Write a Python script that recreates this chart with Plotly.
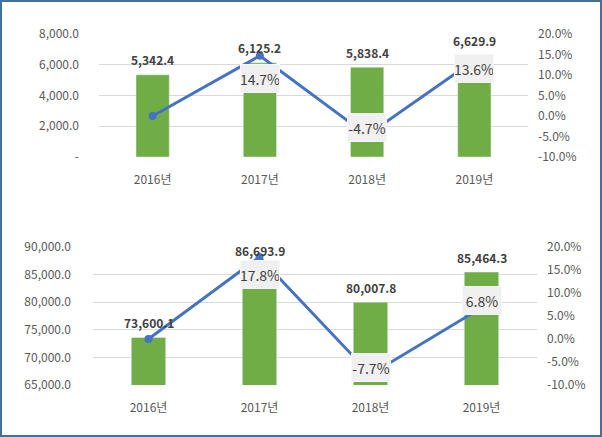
import plotly.graph_objects as go

# ---- data ----
years = ["2016년", "2017년", "2018년", "2019년"]
top_values = [5342.4, 6125.2, 5838.4, 6629.9]
top_growth = [0.0, 14.7, -4.7, 13.6]
bottom_values = [73600.1, 86693.9, 80007.8, 85464.3]
bottom_growth = [0.0, 17.8, -7.7, 6.8]

top_left_ticks = [0, 2000, 4000, 6000, 8000]
top_left_text = ["-", "2,000.0", "4,000.0", "6,000.0", "8,000.0"]
bottom_left_ticks = [65000, 70000, 75000, 80000, 85000, 90000]
bottom_left_text = ["65,000.0", "70,000.0", "75,000.0", "80,000.0", "85,000.0", "90,000.0"]
pct_ticks = [-10, -5, 0, 5, 10, 15, 20]
pct_text = ["-10.0%", "-5.0%", "0.0%", "5.0%", "10.0%", "15.0%", "20.0%"]

# ---- style ----
FONT = "Noto Sans CJK KR"
GREEN = "#70ad47"
BLUE = "#4472c4"
TICK_C = "#595959"
LABEL_C = "#404040"
GRID_C = "#d9d9d9"
W, H = 602, 437

def py(p):  # pixel y from top -> paper fraction
    return 1 - p / H

def px(p):
    return p / W

fig = go.Figure()

fig.add_trace(go.Bar(x=years, y=top_values, xaxis="x", yaxis="y",
                     marker=dict(color=GREEN), width=0.31, showlegend=False,
                     hoverinfo="skip"))
fig.add_trace(go.Scatter(x=years, y=top_growth, xaxis="x", yaxis="y2",
                         mode="lines+markers", line=dict(color=BLUE, width=3),
                         marker=dict(size=8, color=BLUE), showlegend=False,
                         hoverinfo="skip"))
fig.add_trace(go.Bar(x=years, y=bottom_values, xaxis="x2", yaxis="y3",
                     marker=dict(color=GREEN), width=0.31, showlegend=False,
                     hoverinfo="skip"))
fig.add_trace(go.Scatter(x=years, y=bottom_growth, xaxis="x2", yaxis="y4",
                         mode="lines+markers", line=dict(color=BLUE, width=3),
                         marker=dict(size=8, color=BLUE), showlegend=False,
                         hoverinfo="skip"))

tickfont = dict(family=FONT, size=12, color=TICK_C)

annotations = []
# value labels above bars
for xa, ya, vals in [("x", "y", top_values), ("x2", "y3", bottom_values)]:
    for yr, v in zip(years, vals):
        annotations.append(dict(x=yr, y=v, xref=xa, yref=ya, text=f"{v:,.1f}",
                                showarrow=False, yshift=15,
                                font=dict(family=FONT, size=12, color=LABEL_C, weight="bold")))
# growth labels
top_shift = [0, -23, 8, -8]
bot_shift = [0, -17, 7, 7]
for xa, ya, vals, shifts in [("x", "y2", top_growth, top_shift),
                             ("x2", "y4", bottom_growth, bot_shift)]:
    for i, (yr, v) in enumerate(zip(years, vals)):
        if i == 0:
            continue
        annotations.append(dict(x=yr, y=v, xref=xa, yref=ya, text=f"{v:.1f}%",
                                showarrow=False, yshift=shifts[i],
                                bgcolor="#f0f0f0", bordercolor="#f7f7f7",
                                borderwidth=1, borderpad=0, width=38, height=27,
                                font=dict(family=FONT, size=14, color=LABEL_C)))

common = dict(automargin=False, tickfont=tickfont)

fig.update_layout(
    width=W, height=H,
    margin=dict(l=0, r=0, t=0, b=0, pad=0),
    paper_bgcolor="white", plot_bgcolor="white",
    xaxis=dict(domain=[px(99), px(528)], anchor="y", type="category",
               showline=False, showgrid=False, ticklabelstandoff=14, **common),
    yaxis=dict(domain=[py(157), py(34)], anchor="x", range=[0, 8000],
               tickvals=top_left_ticks, ticktext=top_left_text,
               showgrid=True, gridcolor=GRID_C, gridwidth=1, zeroline=False,
               ticklabelstandoff=19, **common),
    yaxis2=dict(overlaying="y", anchor="x", side="right", range=[-10, 20],
                tickvals=pct_ticks, ticktext=pct_text, showgrid=False,
                zeroline=False, ticklabelstandoff=9, **common),
    xaxis2=dict(domain=[px(93), px(537)], anchor="y3", type="category",
                showline=False, showgrid=False, ticklabelstandoff=14, **common),
    yaxis3=dict(domain=[py(385), py(247)], anchor="x2", range=[65000, 90000],
                tickvals=bottom_left_ticks, ticktext=bottom_left_text,
                showgrid=True, gridcolor=GRID_C, gridwidth=1, zeroline=False,
                ticklabelstandoff=21, **common),
    yaxis4=dict(overlaying="y3", anchor="x2", side="right", range=[-10, 20],
                tickvals=pct_ticks, ticktext=pct_text, showgrid=False,
                zeroline=False, ticklabelstandoff=9, **common),
    annotations=annotations,
    shapes=[dict(type="rect", xref="paper", yref="paper", x0=0, x1=1, y0=0, y1=1,
                 line=dict(color="#41719c", width=4), layer="above")],
    barmode="overlay",
)

fig.write_html("out.html", config={"displayModeBar": False},
               post_script="document.body.style.margin='0';document.body.style.padding='0';")
